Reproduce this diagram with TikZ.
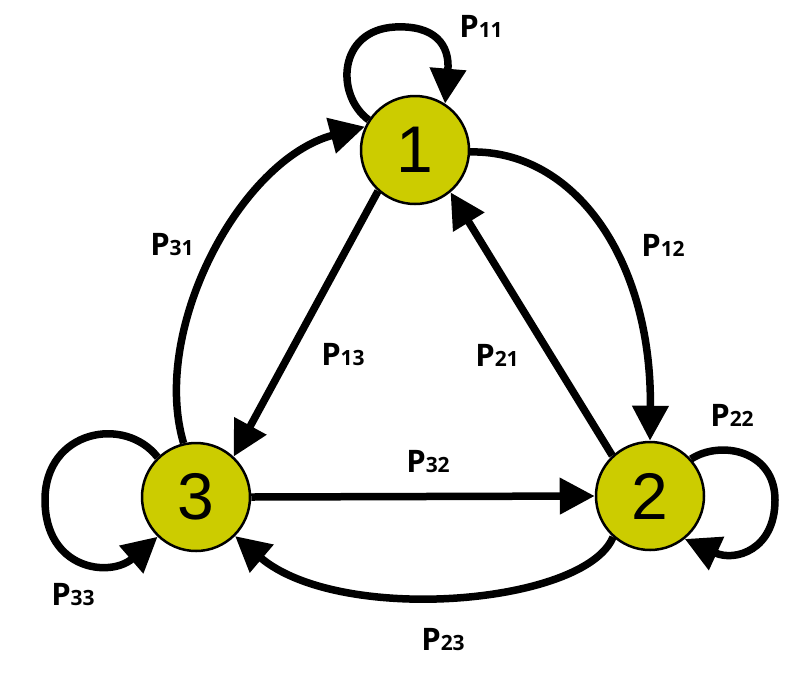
\documentclass[tikz,border=0pt]{standalone}
\usepackage{fontspec}
\setmainfont{Liberation Sans}
\newfontfamily\labelfont{Open Sans}
\usetikzlibrary{arrows.meta}
\begin{document}
\begin{tikzpicture}[x=1pt,y=-1pt,
  state/.style={circle,draw=black,line width=2.5pt,fill=stateyellow,
    minimum size=108pt,inner sep=0pt,font=\fontsize{66}{66}\selectfont},
  edge/.style={line width=7.5pt,-{Triangle[length=35pt,width=35pt]}},
  lbl/.style={inner sep=0pt,font=\labelfont\bfseries\fontsize{31}{31}\selectfont}]
\definecolor{stateyellow}{RGB}{204,204,0}
\useasboundingbox (0,0) rectangle (787,681);
\newcommand{\prob}[1]{P{\fontsize{21}{21}\selectfont #1}}

% states
\node[state] (n1) at (415,150) {1};
\node[state] (n2) at (650,496) {2};
\node[state] (n3) at (196,497) {3};

% self loops
\draw[edge] (n1.147) .. controls (335,95) and (338,30) .. (395,27)
  .. controls (435,25) and (450,45) .. (n1.57);
\draw[edge] (n2.42) .. controls (720,440) and (775,450) .. (775,500)
  .. controls (775,550) and (735,562) .. (n2.-51);
\draw[edge] (n3.134) .. controls (125,415) and (45,430) .. (45,500)
  .. controls (45,570) and (110,578) .. (n3.-134);

% transitions between states
\draw[edge] (n1.-2) .. controls (575,150) and (652,260) .. (n2.90);
\draw[edge] (n2.133) -- (n1.-50);
\draw[edge] (n1.-132) -- (n3.47);
\draw[edge] (n3.103) .. controls (150,330) and (240,160) .. (n1.155);
\draw[edge] (n3.east) -- (n2.west);
\draw[edge] (n2.-132) .. controls (585,605) and (340,625) .. (n3.-45);

% transition probabilities
\node[lbl] (p11) at (481,26) {\prob{11}};
\node[lbl] (p12) at (663,245) {\prob{12}};
\node[lbl] (p13) at (343,355) {\prob{13}};
\node[lbl] (p21) at (497,355) {\prob{21}};
\node[lbl] (p22) at (732,415) {\prob{22}};
\node[lbl] (p31) at (172,245) {\prob{31}};
\node[lbl] (p32) at (428,462) {\prob{32}};
\node[lbl] (p33) at (73,595) {\prob{33}};
\node[lbl] (p23) at (443,640) {\prob{23}};
\end{tikzpicture}
\end{document}
